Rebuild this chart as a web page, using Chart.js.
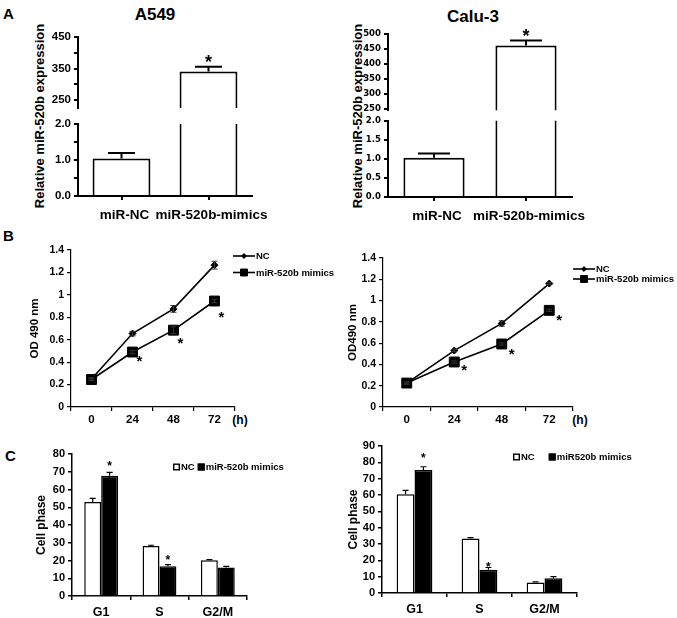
<!DOCTYPE html>
<html>
<head>
<meta charset="utf-8">
<script src="https://cdn.jsdelivr.net/npm/chart.js@4.4.1/dist/chart.umd.min.js"></script>
<style>
  html, body { margin: 0; padding: 0; background: #fff; }
  body {
    width: 677px; height: 618px; position: relative; overflow: hidden;
    font-family: 'Liberation Sans', Arial, sans-serif; font-weight: bold; color: #000;
  }
  canvas { position: absolute; }
  .txt { position: absolute; white-space: nowrap; line-height: 1; }
  .mid { transform: translateX(-50%); }
  .ytitle {
    position: absolute; white-space: nowrap; line-height: 1; font-size: 13px;
    transform: translate(-50%, -50%) rotate(-90deg);
  }
</style>
</head>
<body>
<div class="txt" style="left:3px;top:6px;font-size:15px">A</div>
<div class="txt mid" style="left:155px;top:6px;font-size:17px">A549</div>
<div class="txt mid" style="left:473px;top:8px;font-size:17px">Calu-3</div>
<div class="ytitle" style="left:39px;top:116px">Relative miR-520b expression</div>
<div class="ytitle" style="left:357px;top:116px">Relative miR-520b expression</div>
<div class="txt" style="left:3px;top:228px;font-size:15px">B</div>
<div class="txt mid" style="left:240px;top:414px;font-size:12px">(h)</div>
<div class="txt mid" style="left:580px;top:414px;font-size:12px">(h)</div>
<div class="txt" style="left:5px;top:448px;font-size:15px">C</div>

<script>
'use strict';

// ── Data ──────────────────────────────────────────────────────────────────────

const exprLabels = ['miR-NC', 'miR-520b-mimics'];
const a549Expr = [1.04, 341];
const a549ExprErr = [0.15, 15];
const a549ExprStar = [null, 385];
const caluExpr = [1.03, 461];
const caluExprErr = [0.11, 17];
const caluExprStar = [null, 507];

const a549UpperTicks = [250, 300, 350, 400, 450];
const a549UpperLabels = ['250', '', '350', '', '450'];
const caluUpperTicks = [250, 300, 350, 400, 450, 500];
const caluUpperLabels = ['250', '300', '350', '400', '450', '500'];
const lowerTicks = [0, 0.5, 1, 1.5, 2];
const a549LowerLabels = ['0.0', '', '1.0', '', '2.0'];
const caluLowerLabels = ['0.0', '0.5', '1.0', '1.5', '2.0'];

const hours = ['0', '24', '48', '72'];
const a549NC = [0.25, 0.655, 0.875, 1.265];
const a549NCErr = [0.01, 0.02, 0.03, 0.035];
const a549Mim = [0.245, 0.49, 0.685, 0.945];
const a549MimErr = [0.01, 0.015, 0.03, 0.015];
const a549MimStar = [null, 0.44, 0.6, 0.83];
const caluNC = [0.225, 0.53, 0.785, 1.16];
const caluNCErr = [0.01, 0.01, 0.025, 0.01];
const caluMim = [0.225, 0.423, 0.592, 0.908];
const caluMimErr = [0.01, 0.01, 0.01, 0.01];
const caluMimStar = [null, 0.385, 0.53, 0.855];
const odTicks = [0, 0.2, 0.4, 0.6, 0.8, 1, 1.2, 1.4];
const odLabels = ['0', '0.2', '0.4', '0.6', '0.8', '1', '1.2', '1.4'];

const phases = ['G1', 'S', 'G2/M'];
const a549PhaseNC = [53, 28.2, 20.2];
const a549PhaseNCErr = [2, 0.4, 0.3];
const a549PhaseMim = [67.8, 16.8, 16];
const a549PhaseMimErr = [1.9, 0.9, 0.7];
const a549PhaseStar = [75, 22, null];
const caluPhaseNC = [60.4, 33.4, 6.5];
const caluPhaseNCErr = [2.4, 0.5, 0.3];
const caluPhaseMim = [75.3, 14.3, 9.1];
const caluPhaseMimErr = [2, 1.3, 0.9];
const caluPhaseStar = [84.5, 17.8, null];
const a549PhaseTicks = [0, 10, 20, 30, 40, 50, 60, 70, 80];
const caluPhaseTicks = [0, 10, 20, 30, 40, 50, 60, 70, 80, 90];

// ── Setup ─────────────────────────────────────────────────────────────────────

const FONT = "'Liberation Sans', Arial, sans-serif";
const NARROW = "'Liberation Sans Narrow', 'DejaVu Sans Condensed', 'Liberation Sans', sans-serif";

Chart.defaults.font.family = FONT;
Chart.defaults.font.weight = 'bold';
Chart.defaults.color = '#000';
Chart.defaults.animation = false;
Chart.defaults.plugins.legend.display = false;
Chart.defaults.plugins.tooltip.enabled = false;

// error bars + significance stars, read from dataset.errors / dataset.stars
const marksPlugin = {
  id: 'marks',
  afterDatasetsDraw(chart) {
    const { ctx, chartArea: a } = chart;
    const yS = chart.scales.y;
    ctx.save();
    ctx.beginPath();
    ctx.rect(a.left - 20, a.top - 30, a.right - a.left + 60, a.bottom - a.top + 30);
    ctx.clip();
    chart.data.datasets.forEach((ds, di) => {
      const meta = chart.getDatasetMeta(di);
      meta.data.forEach((el, i) => {
        const v = ds.data[i];
        if (v == null) return;
        const e = ds.errors ? ds.errors[i] : 0;
        if (e) {
          const yTop = yS.getPixelForValue(v + e);
          const yBot = yS.getPixelForValue(ds.errBoth ? v - e : v);
          const cw = ds.errCap / 2;
          ctx.strokeStyle = ds.errColor || '#000';
          ctx.lineWidth = ds.errWidth || 1.5;
          ctx.beginPath();
          ctx.moveTo(el.x, yBot); ctx.lineTo(el.x, yTop);
          ctx.moveTo(el.x - cw, yTop); ctx.lineTo(el.x + cw, yTop);
          if (ds.errBoth) { ctx.moveTo(el.x - cw, yBot); ctx.lineTo(el.x + cw, yBot); }
          ctx.stroke();
        }
        const s = ds.stars ? ds.stars[i] : null;
        if (s != null) {
          const fs = ds.starSize || 13;
          ctx.fillStyle = '#000';
          ctx.font = `bold ${fs}px ${FONT}`;
          ctx.textAlign = 'center';
          ctx.textBaseline = 'alphabetic';
          ctx.fillText('*', el.x + (ds.starDx || 0), yS.getPixelForValue(s) + fs * 0.57);
        }
      });
    });
    ctx.restore();
  }
};

// small hand-placed legends (line+marker rows, or inline boxes)
const keyPlugin = {
  id: 'key',
  afterDraw(chart, args, o) {
    if (!o || !o.kind) return;
    const { ctx, chartArea: a } = chart;
    ctx.save();
    ctx.font = `bold ${o.size}px ${FONT}`;
    ctx.textBaseline = 'middle';
    ctx.textAlign = 'left';
    let x = a.left + o.x;
    const y = a.top + o.y;
    chart.data.datasets.forEach((ds, i) => {
      ctx.fillStyle = '#000';
      ctx.strokeStyle = '#000';
      if (o.kind === 'line') {
        const yy = y + i * o.gap;
        ctx.lineWidth = ds.borderWidth;
        ctx.beginPath(); ctx.moveTo(x, yy); ctx.lineTo(x + o.len, yy); ctx.stroke();
        ctx.lineWidth = 1;
        Chart.helpers.drawPoint(ctx, {
          pointStyle: ds.pointStyle, radius: ds.pointRadius * o.scale, borderWidth: 1, rotation: 0,
        }, x + o.len / 2, yy);
        ctx.fillText(ds.label, x + o.len + 1, yy + 0.5);
      } else {
        const b = o.box;
        ctx.fillStyle = ds.backgroundColor;
        ctx.fillRect(x, y - b / 2, b, b);
        ctx.lineWidth = 1.4;
        ctx.strokeRect(x + 0.7, y - b / 2 + 0.7, b - 1.4, b - 1.4);
        x += b + 1;
        ctx.fillStyle = '#000';
        ctx.fillText(ds.label, x, y + 0.5);
        x += ctx.measureText(ds.label).width + o.gap;
      }
    });
    ctx.restore();
  }
};

Chart.register(marksPlugin, keyPlugin);

// ── Builders ──────────────────────────────────────────────────────────────────

// rect = plot area [x0, y0, x1, y1] on the page, m = room around it
function addChart(rect, m, config) {
  const c = document.createElement('canvas');
  const w = rect[2] - rect[0] + m.l + m.r;
  const h = rect[3] - rect[1] + m.t + m.b;
  c.width = w; c.height = h;
  Object.assign(c.style, {
    left: (rect[0] - m.l) + 'px', top: (rect[1] - m.t) + 'px', width: w + 'px', height: h + 'px',
  });
  document.body.appendChild(c);
  config.options.responsive = false;
  config.options.devicePixelRatio = 1;
  config.options.layout = { padding: { top: m.t, right: m.r, left: 0, bottom: m.pb || 0 } };
  const xs = config.options.scales.x;
  if (xs.display !== false) xs.afterFit = s => { s.height = m.b; };
  config.options.scales.y.afterFit = s => { s.width = m.l; };
  return new Chart(c, config);
}

function yAxis(min, max, ticks, labels, font, lw, title) {
  return {
    min, max,
    afterBuildTicks: s => { s.ticks = ticks.map(v => ({ value: v })); },
    ticks: { autoSkip: false, font, color: '#000', padding: 3, callback: (v, i) => labels[i] },
    grid: { drawOnChartArea: false, tickLength: 4, color: '#000', lineWidth: lw },
    border: { color: '#000', width: lw },
    title: title
      ? { display: true, text: title, font: { size: font.tTitle || 12 }, color: '#000', padding: 0 }
      : { display: false },
  };
}

function xAxis(labelFont, lw, pad, gridOffset, labelOffset) {
  return {
    type: 'category', offset: true,
    ticks: { font: labelFont, color: '#000', padding: pad, maxRotation: 0, autoSkip: false, labelOffset: labelOffset || 0 },
    grid: { offset: gridOffset, drawOnChartArea: false, tickLength: 4, color: '#000', lineWidth: lw },
    border: { color: '#000', width: lw },
  };
}

// ── Panel A: broken-axis bars ─────────────────────────────────────────────────

function exprPair(upRect, lowRect, vals, errs, stars, upT, upL, upMin, upMax, lowL, tickFont, cap) {
  const barSet = () => ({
    data: vals, errors: errs, stars, errCap: cap, errWidth: 2, starSize: 18,
    backgroundColor: '#fff', borderColor: '#000', borderWidth: 2, borderSkipped: 'start',
    barPercentage: 0.665, categoryPercentage: 1, clip: { left: 5, right: 5, top: 0, bottom: 0 },
  });
  addChart(upRect, { l: 32, r: 30, t: 12, b: 8, pb: 8 }, {
    type: 'bar',
    data: { labels: exprLabels, datasets: [barSet()] },
    options: {
      scales: {
        x: { type: 'category', offset: true, display: false },
        y: yAxis(upMin, upMax, upT, upL, tickFont, 2),
      },
    },
  });
  addChart(lowRect, { l: 32, r: 30, t: 8, b: 30 }, {
    type: 'bar',
    data: { labels: exprLabels, datasets: [barSet()] },
    options: {
      scales: {
        x: xAxis({ size: 13.5 }, 2, 7, false, 3),
        y: yAxis(0, 2, lowerTicks, lowL, tickFont, 2),
      },
    },
  });
}

exprPair([78, 37, 252, 110], [78, 122, 252, 196], a549Expr, a549ExprErr, a549ExprStar,
  a549UpperTicks, a549UpperLabels, 225, 450, a549LowerLabels, { size: 11.5 }, 27);
exprPair([388, 34, 572, 111], [388, 120, 572, 197], caluExpr, caluExprErr, caluExprStar,
  caluUpperTicks, caluUpperLabels, 244, 500, caluLowerLabels, { size: 9.5, family: NARROW }, 32);

// ── Panel B: growth curves ────────────────────────────────────────────────────

function growth(rect, m, nc, ncErr, mim, mimErr, mimStar, title, starDx, key) {
  const line = (label, data, errors, style, radius, order) => ({
    label, data, errors, order, errBoth: true, errCap: 6, errWidth: 1, errColor: '#333',
    borderColor: '#000', borderWidth: 1.6, backgroundColor: '#000', tension: 0,
    pointStyle: style, pointRadius: radius, pointBackgroundColor: '#000', pointBorderColor: '#000',
    pointBorderWidth: 1,
  });
  const ncSet = line('NC', nc, ncErr, 'rectRot', 3.5, 1);
  const mimSet = line('miR-520b mimics', mim, mimErr, 'rect', 7, 0);
  mimSet.stars = mimStar; mimSet.starDx = starDx; mimSet.starSize = 15;
  addChart(rect, m, {
    type: 'line',
    data: { labels: hours, datasets: [ncSet, mimSet] },
    options: {
      plugins: { key },
      scales: {
        x: xAxis({ size: 11.5 }, 1.2, 2, true),
        y: yAxis(0, 1.4, odTicks, odLabels, { size: 10.5, tTitle: 11.5 }, 1.2, title),
      },
    },
  });
}

growth([71, 250, 235, 407], { l: 43, r: 104, t: 10, b: 24 }, a549NC, a549NCErr, a549Mim, a549MimErr,
  a549MimStar, 'OD 490 nm', 7, { kind: 'line', x: 162, y: 6, gap: 16.5, len: 22, scale: 0.7, size: 9.5 });
growth([383, 258, 573, 407], { l: 37, r: 104, t: 10, b: 24 }, caluNC, caluNCErr, caluMim, caluMimErr,
  caluMimStar, 'OD490 nm', 10, { kind: 'line', x: 190, y: 11, gap: 10, len: 22, scale: 0.7, size: 9.5 });

// ── Panel C: cell cycle ───────────────────────────────────────────────────────

function cycle(rect, m, nc, ncErr, mim, mimErr, stars, ticks, max, mimLabel, catPct, key) {
  const bar = (label, data, errors, fill) => ({
    label, data, errors, errCap: 6, errWidth: 1.2,
    backgroundColor: fill, borderColor: '#000', borderWidth: 1.5, borderSkipped: 'start',
    barPercentage: 1, categoryPercentage: catPct,
  });
  const mimSet = bar(mimLabel, mim, mimErr, '#000');
  mimSet.stars = stars; mimSet.starSize = 12;
  addChart(rect, m, {
    type: 'bar',
    data: { labels: phases, datasets: [bar('NC', nc, ncErr, '#fff'), mimSet] },
    options: {
      plugins: { key },
      scales: {
        x: xAxis({ size: 12.5 }, 1.5, 5, true),
        y: yAxis(0, max, ticks, ticks.map(String), { size: 11, tTitle: 12 }, 1.5, 'Cell phase'),
      },
    },
  });
}

cycle([72, 454, 247, 596], { l: 38, r: 40, t: 10, b: 24 }, a549PhaseNC, a549PhaseNCErr, a549PhaseMim,
  a549PhaseMimErr, a549PhaseStar, a549PhaseTicks, 80, 'miR-520b mimics', 0.58,
  { kind: 'box', x: 101, y: 13, box: 7, gap: 3, size: 9.5 });
cycle([382, 446, 577, 593], { l: 36, r: 55, t: 10, b: 24 }, caluPhaseNC, caluPhaseNCErr, caluPhaseMim,
  caluPhaseMimErr, caluPhaseStar, caluPhaseTicks, 90, 'miR520b mimics', 0.55,
  { kind: 'box', x: 131, y: 11, box: 7, gap: 14, size: 9.5 });
</script>
</body>
</html>
